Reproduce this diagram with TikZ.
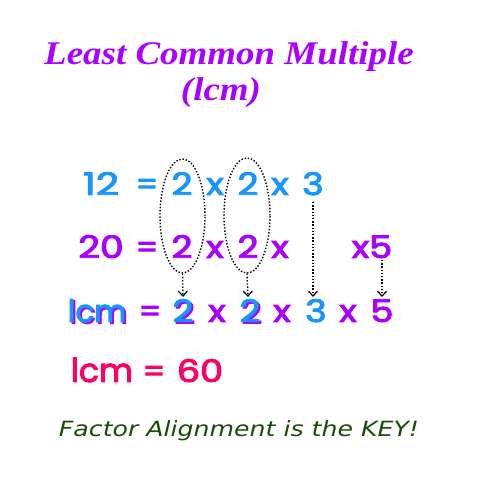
\documentclass[tikz,border=0pt]{standalone}
\usepackage{fontspec}
\usetikzlibrary{shapes.geometric,arrows.meta}
\newfontfamily\numfont{Poppins}[FakeBold=3]
\newfontfamily\titlefont{Liberation Serif}
\newfontfamily\notefont{DejaVu Sans}
\definecolor{cblue}{RGB}{24,150,255}
\definecolor{cpurple}{RGB}{170,0,255}
\definecolor{cpink}{RGB}{255,0,102}
\definecolor{cgreen}{RGB}{26,75,8}
\newcommand\wide[1]{\scalebox{1.18}[1]{#1}}
\newcommand\shad[1]{\rlap{\raisebox{-1.6pt}{\hspace{1.8pt}\textcolor{cpurple}{#1}}}#1}
\tikzset{
  num/.style={anchor=base, inner sep=0pt, font=\numfont\fontsize{31}{31}\selectfont},
  bl/.style={num, text=cblue},
  pu/.style={num, text=cpurple},
  pk/.style={num, text=cpink},
  loop/.style={draw, ellipse, line width=1.4pt, dash pattern=on 1.4pt off 1.8pt, inner sep=0pt},
  flow/.style={line width=1.4pt, dash pattern=on 1.4pt off 1.8pt, -{Straight Barb[length=5pt,width=9pt,line width=1.2pt]}}
}
\begin{document}
\begin{tikzpicture}[x=1pt,y=1pt]
\useasboundingbox (0,0) rectangle (480,480);
% title
\node[anchor=base, text=cpurple, font=\titlefont\bfseries\itshape\fontsize{33}{33}\selectfont] (title) at (229,415) {\scalebox{1.12}[1]{Least Common Multiple}};
\node[anchor=base, text=cpurple, font=\titlefont\bfseries\itshape\fontsize{33}{33}\selectfont] (sub) at (221,379) {\scalebox{1.12}[1]{(lcm)}};
% row 1
\node[bl] (a12) at (101,285) {\scalebox{1.3}[1]{12}};
\node[bl] (aeq) at (147,285) {=};
\node[bl] (a2a) at (182,285) {\wide{2}};
\node[bl] (ax1) at (215,285) {\wide{x}};
\node[bl] (a2b) at (248,285) {\wide{2}};
\node[bl] (ax2) at (280,285) {\wide{x}};
\node[bl] (a3) at (313,285) {\wide{3}};
% row 2
\node[pu] (b20) at (101,222) {\scalebox{1.22}[1]{20}};
\node[pu] (beq) at (147,222) {=};
\node[pu] (b2a) at (182,222) {\wide{2}};
\node[pu] (bx1) at (215,222) {\wide{x}};
\node[pu] (b2b) at (248,222) {\wide{2}};
\node[pu] (bx2) at (280,222) {\wide{x}};
\node[pu] (bx5) at (372,222) {\wide{x5}};
% ellipses
\node[loop, minimum width=45, minimum height=114] (e1) at (182.5,264) {};
\node[loop, minimum width=46, minimum height=115] (e2) at (247,264.5) {};
% row 3
\node[bl] (clcm) at (97,158) {\shad{lcm}};
\node[pu] (ceq) at (150,158) {=};
\node[bl] (c2a) at (183,158) {\shad{\wide{2}}};
\node[pu] (cx1) at (217,158) {\wide{x}};
\node[bl] (c2b) at (250,158) {\shad{\wide{2}}};
\node[pu] (cx2) at (282,158) {\wide{x}};
\node[bl] (c3) at (316,158) {\wide{3}};
\node[pu] (cx3) at (348,158) {\wide{x}};
\node[pu] (c5) at (382,158) {\wide{5}};
% row 4
\node[pk, font=\numfont\fontsize{33}{33}\selectfont] (dlcm) at (102,98) {lcm};
\node[pk] (deq) at (154,98) {=};
\node[pk] (d60) at (200,98) {\wide{60}};
% arrows
\coordinate (t1) at (183,183);
\coordinate (t2) at (248,183);
\coordinate (t3) at (313,183);
\coordinate (t4) at (382,183);
\coordinate (s3) at (313,278);
\coordinate (s4) at (382,220);
\draw[flow] (e1.south) -- (t1);
\draw[flow] (e2.south) -- (t2);
\draw[flow] (s3) -- (t3);
\draw[flow] (s4) -- (t4);
% note
\node[anchor=base, text=cgreen, font=\notefont\itshape\fontsize{21}{21}\selectfont] (note) at (239,43) {\scalebox{1.2}[1]{Factor Alignment is the KEY!}};
\end{tikzpicture}
\end{document}
